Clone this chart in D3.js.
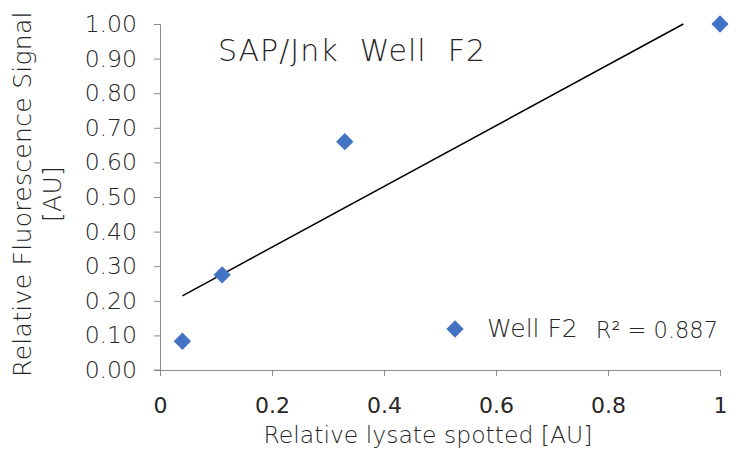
<!DOCTYPE html>
<html>
<head>
<meta charset="utf-8">
<script src="https://cdn.jsdelivr.net/npm/d3@7"></script>
<style>
  body { margin: 0; background: #fff; }
  text { font-family: "DejaVu Sans ExtraLight", "DejaVu Sans", sans-serif; font-weight: 200; fill: #262626; }
</style>
</head>
<body>
<div class="chart"></div>
<script>
// data
const lysate = [0.04, 0.111, 0.33, 1.0];
const signal = [0.083, 0.275, 0.66, 1.0];
const xTicks = [0, 0.2, 0.4, 0.6, 0.8, 1];
const yTicks = [0, 0.1, 0.2, 0.3, 0.4, 0.5, 0.6, 0.7, 0.8, 0.9, 1.0];
const seriesName = 'Well F2';
const r2Label = 'R² = 0.887';

const width = 736, height = 461;
const margin = { top: 24, right: 16, bottom: 91, left: 160 };
const innerWidth = width - margin.left - margin.right,
  innerHeight = height - margin.top - margin.bottom;

const svg = d3.select('.chart').append('svg')
  .attr('width', width)
  .attr('height', height);

const g = svg.append('g')
  .attr('transform', `translate(${margin.left}, ${margin.top})`);

const x = d3.scaleLinear().domain([0, 1]).range([0, 560]);
const y = d3.scaleLinear().domain([0, 1]).range([innerHeight, 0]);

// y axis
const yAxis = g.append('g')
  .call(d3.axisLeft(y).tickValues(yTicks).tickFormat(d3.format('.2f')).tickSize(6).tickPadding(17));
yAxis.select('.domain').attr('stroke', '#8c8c8c');
yAxis.selectAll('.tick line').attr('stroke', '#8c8c8c');
yAxis.selectAll('.tick text')
  .attr('font-size', 23.5)
  .attr('font-family', null)
  .attr('fill', '#262626');

// x axis
const xAxis = g.append('g')
  .attr('transform', `translate(0, ${innerHeight})`)
  .call(d3.axisBottom(x).tickValues(xTicks).tickFormat(d3.format('')).tickSize(6).tickPadding(21));
xAxis.select('.domain').attr('stroke', '#8c8c8c');
xAxis.selectAll('.tick line').attr('stroke', '#8c8c8c');
xAxis.selectAll('.tick text')
  .attr('font-size', 22)
  .attr('font-family', '"Open Sans", sans-serif')
  .style('font-weight', 400)
  .attr('fill', '#000');
// little stub of the x axis left of 0
g.append('line')
  .attr('x1', -6).attr('x2', 0)
  .attr('y1', innerHeight).attr('y2', innerHeight)
  .attr('stroke', '#8c8c8c');

// linear trendline (least squares)
const mx = d3.mean(lysate), my = d3.mean(signal);
const sxy = d3.sum(lysate, (d, i) => (d - mx) * (signal[i] - my));
const sxx = d3.sum(lysate, d => (d - mx) * (d - mx));
const slope = sxy / sxx, icpt = my - slope * mx;
const x0 = d3.min(lysate);
const x1 = Math.min(d3.max(lysate), (1 - icpt) / slope);
g.append('line')
  .attr('x1', x(x0)).attr('y1', y(icpt + slope * x0))
  .attr('x2', x(x1)).attr('y2', y(icpt + slope * x1))
  .attr('stroke', '#000')
  .attr('stroke-width', 1.5);

// points
const diamond = d3.symbol().type(d3.symbolSquare).size(150);
g.selectAll('.pt')
  .data(lysate.map((d, i) => ({ x: d, y: signal[i] })))
  .enter()
  .append('path')
  .attr('d', diamond)
  .attr('transform', d => `translate(${x(d.x)}, ${y(d.y)}) rotate(45)`)
  .attr('fill', '#4472c4');

// title
svg.append('text')
  .attr('x', 218).attr('y', 61)
  .attr('font-size', 30)
  .attr('letter-spacing', 1)
  .style('white-space', 'pre')
  .text('SAP/Jnk  Well  F2');

// axis titles
svg.append('text')
  .attr('x', 428).attr('y', 443)
  .attr('text-anchor', 'middle')
  .attr('font-size', 23.5)
  .text('Relative lysate spotted [AU]');

const yt = svg.append('text')
  .attr('transform', 'translate(0, 194) rotate(-90)')
  .attr('text-anchor', 'middle')
  .attr('font-size', 25)
  .attr('letter-spacing', 0.3);
yt.append('tspan').attr('x', 0).attr('y', 31).text('Relative Fluorescence Signal');
yt.append('tspan').attr('x', 0).attr('y', 61).text('[AU]');

// legend
svg.append('path')
  .attr('d', diamond)
  .attr('transform', 'translate(455, 329) rotate(45)')
  .attr('fill', '#4472c4');
svg.append('text')
  .attr('x', 487).attr('y', 337)
  .attr('font-size', 25)
  .text(seriesName);
svg.append('text')
  .attr('x', 718).attr('y', 338)
  .attr('text-anchor', 'end')
  .attr('font-size', 22.5)
  .text(r2Label);
</script>
</body>
</html>
